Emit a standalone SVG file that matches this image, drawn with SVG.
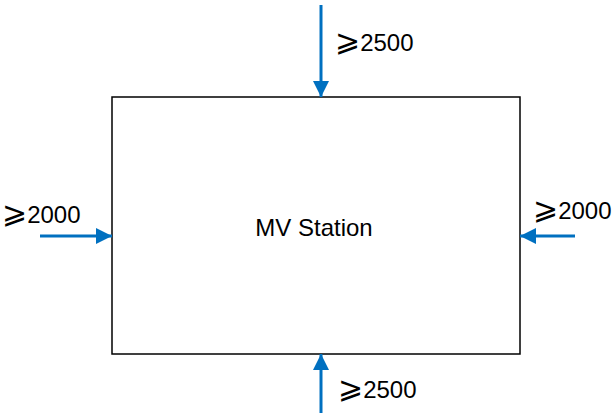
<svg xmlns="http://www.w3.org/2000/svg" width="615" height="418" viewBox="0 0 615 418">
<style>
.t{font-family:"Liberation Sans",Arial,sans-serif;font-size:24px;fill:#000}
.g{font-family:"DejaVu Sans",sans-serif;font-size:30px}
.a{stroke:#0070C0;stroke-width:3;fill:none}
</style>
<defs>
<marker id="ah2" viewBox="0 0 16 16" refX="16" refY="8" markerWidth="22" markerHeight="16" orient="auto" markerUnits="userSpaceOnUse">
<path d="M0,0 L16,8 L0,16 Z" fill="#0070C0"/>
</marker>
</defs>
<rect width="615" height="418" fill="#fff"/>
<g id="station">
<rect x="112" y="97" width="408" height="257" fill="#fff" stroke="#000" stroke-width="1.5"/>
<text class="t" x="314" y="236" text-anchor="middle">MV Station</text>
</g>
<g id="connectors">
<line class="a" x1="321" y1="5" x2="321" y2="97" marker-end="url(#ah2)"/>
<line class="a" x1="321" y1="413" x2="321" y2="354" marker-end="url(#ah2)"/>
<line class="a" x1="40" y1="236" x2="112" y2="236" marker-end="url(#ah2)"/>
<line class="a" x1="575" y1="236" x2="520" y2="236" marker-end="url(#ah2)"/>
</g>
<g id="labels">
<text class="t" x="335" y="51"><tspan class="g">⩾</tspan>2500</text>
<text class="t" x="338" y="398"><tspan class="g">⩾</tspan>2500</text>
<text class="t" x="2" y="223"><tspan class="g">⩾</tspan>2000</text>
<text class="t" x="533" y="219"><tspan class="g">⩾</tspan>2000</text>
</g>
</svg>
